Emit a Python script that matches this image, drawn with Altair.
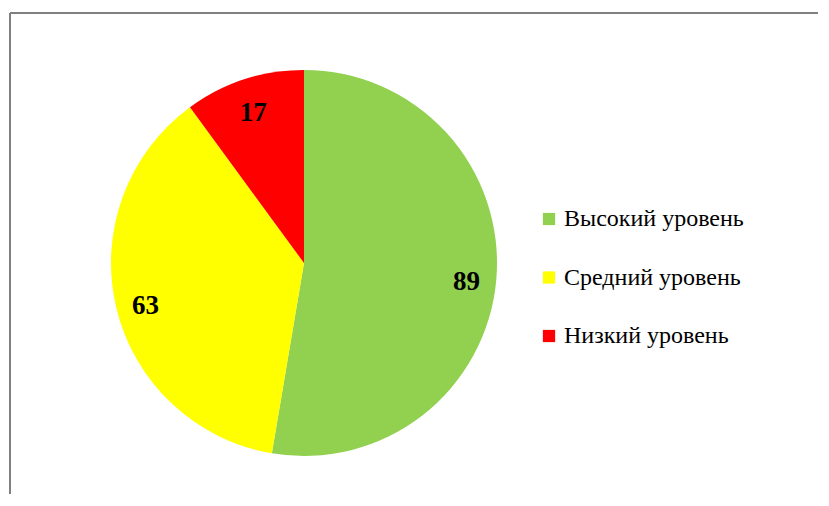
import altair as alt
import pandas as pd

categories = ["Высокий уровень", "Средний уровень", "Низкий уровень"]
values = [89, 63, 17]
colors = ["#92D050", "#FFFF00", "#FF0000"]
order = [1, 2, 3]

df = pd.DataFrame({"cat": categories, "val": values, "ord": order})

CX, CY, R = 296, 255, 193

base = alt.Chart(df).encode(
    theta=alt.Theta("val:Q", stack=True),
    order=alt.Order("ord:Q"),
)

pie = base.mark_arc(radius=R, stroke=None).encode(
    x=alt.value(CX),
    y=alt.value(CY),
    color=alt.Color(
        "cat:N",
        scale=alt.Scale(domain=categories, range=colors),
        sort=categories,
        legend=alt.Legend(
            title=None,
            orient="none",
            legendX=529,
            legendY=199,
            symbolType="square",
            symbolSize=150,
            symbolStrokeWidth=0,
            labelFont="Liberation Serif",
            labelFontSize=24,
            labelColor="#000000",
            labelOffset=3,
            rowPadding=34.5,
            padding=0,
            labelLimit=400,
        ),
    ),
)

labels = base.mark_text(
    radius=163,
    dy=5,
    font="Liberation Serif",
    fontSize=27,
    fontWeight="bold",
    color="#000000",
).encode(
    x=alt.value(CX),
    y=alt.value(CY),
    text=alt.Text("val:Q"),
)

border_df = pd.DataFrame({"k": [0]})
top_line = alt.Chart(border_df).mark_rule(color="#808080", strokeWidth=2).encode(
    x=alt.value(2), x2=alt.value(813), y=alt.value(5)
)
left_line = alt.Chart(border_df).mark_rule(color="#808080", strokeWidth=2).encode(
    x=alt.value(2), y=alt.value(5), y2=alt.value(498)
)

chart = alt.layer(top_line, left_line, pie, labels).properties(
    width=810, height=486, autosize=alt.AutoSizeParams(type="none"), padding=0
).configure_view(stroke=None)

chart.save("out.html", embed_options={"renderer": "svg", "actions": False})
